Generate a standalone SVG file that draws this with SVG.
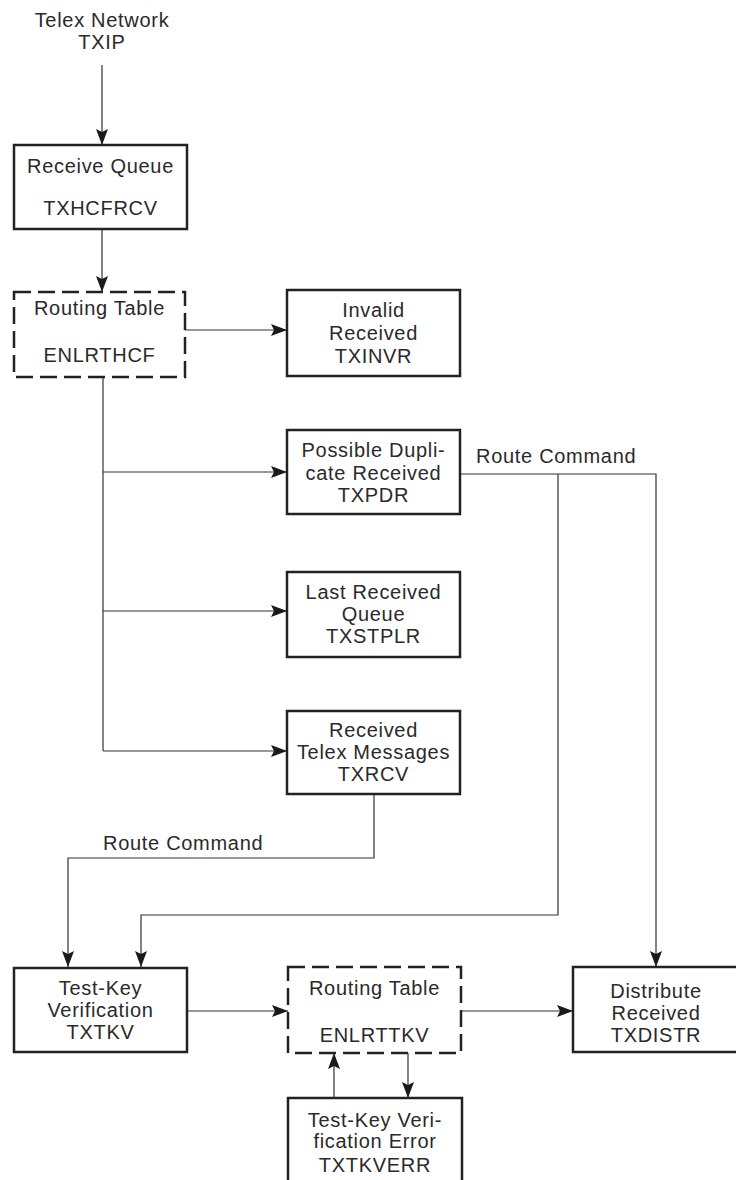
<svg xmlns="http://www.w3.org/2000/svg" width="736" height="1180" viewBox="0 0 736 1180">
  <style>
    .box { fill: #ffffff; stroke: #222222; stroke-width: 2.5; }
    .dash { fill: #ffffff; stroke: #222222; stroke-width: 2.5; stroke-dasharray: 17 7; }
    .wire { fill: none; stroke: #333333; stroke-width: 1.2; }
    .lbl { font-family: "Liberation Sans", Arial, sans-serif; font-size: 20px; fill: #2a2a2a; letter-spacing: 0.7px; text-anchor: middle; }
    .cmd { font-family: "Liberation Sans", Arial, sans-serif; font-size: 20px; fill: #2a2a2a; letter-spacing: 0.7px; }
  </style>
  <defs>
    <marker id="arrow" markerUnits="userSpaceOnUse" markerWidth="16" markerHeight="12" refX="16" refY="6" orient="auto">
      <path d="M0,0 L16,6 L0,12 L3,6 z" fill="#1a1a1a"/>
    </marker>
  </defs>

  <rect width="736" height="1180" fill="#ffffff"/>

  <!-- connectors -->
  <g id="connectors">
    <path class="wire" d="M102,65 V145" marker-end="url(#arrow)"/>
    <path class="wire" d="M102,229 V292" marker-end="url(#arrow)"/>
    <path class="wire" d="M185,330 H287" marker-end="url(#arrow)"/>
    <path class="wire" d="M103,377 V751"/>
    <path class="wire" d="M103,472 H287" marker-end="url(#arrow)"/>
    <path class="wire" d="M103,611 H287" marker-end="url(#arrow)"/>
    <path class="wire" d="M103,751 H287" marker-end="url(#arrow)"/>
    <path class="wire" d="M460,474 H656 V967" marker-end="url(#arrow)"/>
    <path class="wire" d="M558,474 V915 H141 V967" marker-end="url(#arrow)"/>
    <path class="wire" d="M374,794 V858 H68 V967" marker-end="url(#arrow)"/>
    <path class="wire" d="M187,1011 H288" marker-end="url(#arrow)"/>
    <path class="wire" d="M461,1011 H573" marker-end="url(#arrow)"/>
    <path class="wire" d="M408,1053 V1098" marker-end="url(#arrow)"/>
    <path class="wire" d="M334,1098 V1053" marker-end="url(#arrow)"/>
    <text class="cmd" x="476" y="463">Route Command</text>
    <text class="cmd" x="103" y="850">Route Command</text>
  </g>

  <!-- source -->
  <g id="txip">
    <text class="lbl" x="102" y="27">Telex Network</text>
    <text class="lbl" x="102" y="49">TXIP</text>
  </g>

  <g id="txhcfrcv">
    <rect class="box" x="14" y="145" width="173" height="84"/>
    <text class="lbl" x="100.5" y="173">Receive Queue</text>
    <text class="lbl" x="100.5" y="215">TXHCFRCV</text>
  </g>

  <g id="enlrthcf">
    <rect class="dash" x="14" y="292" width="171" height="85"/>
    <text class="lbl" x="99.5" y="315">Routing Table</text>
    <text class="lbl" x="99.5" y="362">ENLRTHCF</text>
  </g>

  <g id="txinvr">
    <rect class="box" x="287" y="290" width="173" height="86"/>
    <text class="lbl" x="373.5" y="317">Invalid</text>
    <text class="lbl" x="373.5" y="340">Received</text>
    <text class="lbl" x="373.5" y="363">TXINVR</text>
  </g>

  <g id="txpdr">
    <rect class="box" x="287" y="430" width="173" height="84"/>
    <text class="lbl" x="373.5" y="457">Possible Dupli-</text>
    <text class="lbl" x="373.5" y="480">cate Received</text>
    <text class="lbl" x="373.5" y="502">TXPDR</text>
  </g>

  <g id="txstplr">
    <rect class="box" x="287" y="572" width="173" height="85"/>
    <text class="lbl" x="373.5" y="599">Last Received</text>
    <text class="lbl" x="373.5" y="621">Queue</text>
    <text class="lbl" x="373.5" y="643">TXSTPLR</text>
  </g>

  <g id="txrcv">
    <rect class="box" x="287" y="711" width="173" height="83"/>
    <text class="lbl" x="373.5" y="737">Received</text>
    <text class="lbl" x="373.5" y="759">Telex Messages</text>
    <text class="lbl" x="373.5" y="781">TXRCV</text>
  </g>

  <g id="txtkv">
    <rect class="box" x="14" y="968" width="173" height="84"/>
    <text class="lbl" x="100.5" y="995">Test-Key</text>
    <text class="lbl" x="100.5" y="1017">Verification</text>
    <text class="lbl" x="100.5" y="1039">TXTKV</text>
  </g>

  <g id="enlrttkv">
    <rect class="dash" x="288" y="967" width="173" height="86"/>
    <text class="lbl" x="374.5" y="995">Routing Table</text>
    <text class="lbl" x="374.5" y="1042">ENLRTTKV</text>
  </g>

  <g id="txdistr">
    <rect class="box" x="573" y="967" width="180" height="85"/>
    <text class="lbl" x="656" y="998">Distribute</text>
    <text class="lbl" x="656" y="1020">Received</text>
    <text class="lbl" x="656" y="1042">TXDISTR</text>
  </g>

  <g id="txtkverr">
    <rect class="box" x="288" y="1098" width="174" height="100"/>
    <text class="lbl" x="375" y="1127">Test-Key Veri-</text>
    <text class="lbl" x="375" y="1148">fication Error</text>
    <text class="lbl" x="375" y="1172">TXTKVERR</text>
  </g>
</svg>
